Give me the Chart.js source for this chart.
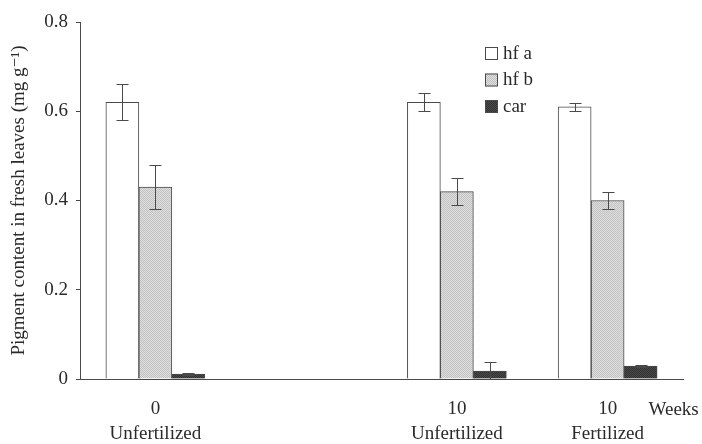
<!DOCTYPE html>
<html>
<head>
<meta charset="utf-8">
<script src="https://cdn.jsdelivr.net/npm/chart.js@4/dist/chart.umd.min.js"></script>
<style>
  body { margin: 0; background: #fff; }
  #wrap { width: 702px; height: 444px; }
</style>
</head>
<body>
<div id="wrap"><canvas id="pigmentChart"></canvas></div>
<script>
// groups on the x axis (empty slot keeps the gap between week 0 and week 10)
const groups = [["0", "Unfertilized"], "", ["10", "Unfertilized"], ["10", "Fertilized"]];
const seriesNames = ["hf a", "hf b", "car"];

// values (mg g-1)
const hfA = [0.62, null, 0.62, 0.61];
const hfAErr = [0.04, null, 0.02, 0.009];
const hfB = [0.43, null, 0.42, 0.40];
const hfBErr = [0.05, null, 0.03, 0.018];
const car = [0.011, null, 0.018, 0.029];
const carErr = [0.003, null, 0.02, 0.003];

const yTicks = [0, 0.2, 0.4, 0.6, 0.8];

const ink = "#4a4a4a";
const textInk = "#2a2a2a";
const serif = "'Liberation Serif', 'DejaVu Serif', serif";

// fine dotted textures like the printed bars
const makePattern = (a, b) => {
    const c = document.createElement("canvas");
    c.width = 2;
    c.height = 2;
    const g = c.getContext("2d");
    g.fillStyle = a;
    g.fillRect(0, 0, 2, 2);
    g.fillStyle = b;
    g.fillRect(0, 0, 1, 1);
    g.fillRect(1, 1, 1, 1);
    return g.createPattern(c, "repeat");
};
const ctx = document.getElementById("pigmentChart").getContext("2d");
const greyFill = makePattern("#dedede", "#c2c2c2");
const darkFill = makePattern("#4a4a4a", "#323232");

const errors = [hfAErr, hfBErr, carErr];

// error bars with caps
const errorBars = {
    id: "errorBars",
    afterDatasetsDraw(chart) {
        const c = chart.ctx;
        const y = chart.scales.y;
        c.save();
        c.strokeStyle = ink;
        c.lineWidth = 1;
        chart.data.datasets.forEach((ds, i) => {
            const meta = chart.getDatasetMeta(i);
            meta.data.forEach((bar, j) => {
                const v = ds.data[j];
                const e = errors[i][j];
                if (v == null || e == null) return;
                const x = Math.round(bar.x) + 0.5;
                const top = Math.round(y.getPixelForValue(v + e)) + 0.5;
                const bot = Math.round(y.getPixelForValue(Math.max(0, v - e))) + 0.5;
                c.beginPath();
                c.moveTo(x, top);
                c.lineTo(x, bot);
                c.moveTo(x - 6, top);
                c.lineTo(x + 6, top);
                if (v - e > 0) {
                    c.moveTo(x - 6, bot);
                    c.lineTo(x + 6, bot);
                }
                c.stroke();
            });
        });
        c.restore();
    }
};

// legend inside the plot + "Weeks" unit label
const extras = {
    id: "extras",
    afterDraw(chart) {
        const c = chart.ctx;
        c.save();
        c.font = "19px " + serif;
        c.textBaseline = "middle";
        chart.data.datasets.forEach((ds, i) => {
            const bx = 485, by = 47 + i * 26.5;
            c.fillStyle = ds.backgroundColor;
            c.fillRect(bx, by, 13, 13);
            c.strokeStyle = ink;
            c.lineWidth = 1;
            c.strokeRect(bx + 0.5, by + 0.5, 12, 12);
            c.fillStyle = textInk;
            c.textAlign = "left";
            c.fillText(ds.label, bx + 18, by + 7);
        });
        const xs = chart.scales.x;
        c.textAlign = "center";
        c.fillText("Weeks", xs.getPixelForTick(3) + 66, 410);
        c.restore();
    }
};

new Chart(ctx, {
    type: "bar",
    data: {
        labels: groups,
        datasets: [
            { label: seriesNames[0], data: hfA, backgroundColor: "#ffffff" },
            { label: seriesNames[1], data: hfB, backgroundColor: greyFill },
            { label: seriesNames[2], data: car, backgroundColor: darkFill },
        ].map((d) => ({ ...d, borderColor: ink, borderWidth: 1, barThickness: 33 })),
    },
    options: {
        responsive: true,
        maintainAspectRatio: false,
        animation: false,
        layout: { padding: { top: 22, right: 19, bottom: 0, left: 0 } },
        plugins: { legend: { display: false }, tooltip: { enabled: false } },
        scales: {
            x: {
                grid: { display: true, drawOnChartArea: false, drawTicks: false },
                border: { display: true, color: ink, width: 1 },
                ticks: {
                    color: textInk,
                    padding: 18,
                    font: { family: serif, size: 19, lineHeight: 1.3 },
                    maxRotation: 0,
                },
                afterFit: (s) => { s.height = 65; },
            },
            y: {
                min: 0,
                max: 0.8,
                afterBuildTicks: (s) => { s.ticks = yTicks.map((v) => ({ value: v })); },
                grid: { drawOnChartArea: false, drawTicks: true, tickLength: 4, color: ink },
                border: { display: true, color: ink, width: 1 },
                ticks: {
                    color: textInk,
                    padding: 8,
                    font: { family: serif, size: 19 },
                    callback: (v) => (v === 0 ? "0" : v.toFixed(1)),
                },
                title: {
                    display: true,
                    text: "Pigment content in fresh leaves (mg g\u207B\u00B9)",
                    color: textInk,
                    font: { family: serif, size: 19 },
                    padding: { top: 8, bottom: 0 },
                },
                afterFit: (s) => { s.width = 80; },
            },
        },
    },
    plugins: [errorBars, extras],
});
</script>
</body>
</html>
